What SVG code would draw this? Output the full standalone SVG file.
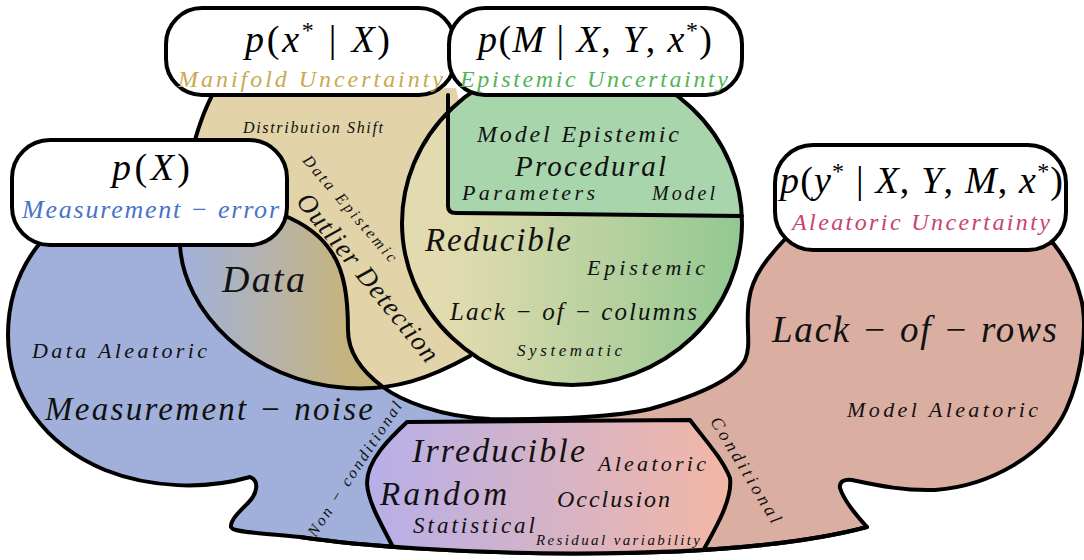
<svg xmlns="http://www.w3.org/2000/svg" width="1084" height="560" viewBox="0 0 1084 560">
<style>
.ol{fill:none;stroke:#000;stroke-width:4;stroke-linejoin:round;stroke-linecap:round}
.box{fill:#fff;stroke:#000;stroke-width:4}
</style>
<defs>
<linearGradient id="gBand" gradientUnits="userSpaceOnUse" x1="0" y1="0" x2="1084" y2="0">
<stop offset="0" stop-color="#a0b0db"/><stop offset="0.5" stop-color="#a0b0db"/>
<stop offset="0.5" stop-color="#dbaea2"/><stop offset="1" stop-color="#dbaea2"/>
</linearGradient>
<linearGradient id="gData" gradientUnits="userSpaceOnUse" x1="185" y1="0" x2="345" y2="0">
<stop offset="0" stop-color="#a2b1da"/><stop offset="1" stop-color="#c6b47f"/>
</linearGradient>
<linearGradient id="gGreen" gradientUnits="userSpaceOnUse" x1="405" y1="0" x2="740" y2="0">
<stop offset="0" stop-color="#e3dbb0"/><stop offset="0.15" stop-color="#e0dbae"/><stop offset="1" stop-color="#93c892"/>
</linearGradient>
<linearGradient id="gPurple" gradientUnits="userSpaceOnUse" x1="370" y1="0" x2="730" y2="0">
<stop offset="0" stop-color="#b7afe9"/><stop offset="1" stop-color="#f3b7a5"/>
</linearGradient>
<path id="bandPath" d="M40,243 C18,270 8,300 8,335 C8,395 45,445 105,470 C150,488 205,490 250,477 C260,481 257,494 248,503 C240,511 230,520 231,527 C233,533 265,533 300,537 C420,555 720,566 867,527 C855,514 843,498 840,488 C839,481 845,479 852,480 C880,486 905,491 935,490 C990,486 1045,455 1066,410 C1084,370 1088,320 1080,295 C1075,275 1065,258 1053,243 L787,237 C770,255 752,275 749,300 C745,325 752,345 745,360 C735,378 700,395 650,409 C620,416 560,420 490,419 C440,417 400,400 383,387 C360,370 348,350 348,330 C348,300 345,270 330,250 C318,232 300,222 283,215 Z"/>
<path id="tanFill" d="M215,90 C198,120 180,180 180,245 C183,310 250,382 347,388 C395,391 430,378 470,356 L470,150 L456,88 Z"/>
<clipPath id="cBand"><use href="#bandPath"/></clipPath>
<clipPath id="cGreen"><ellipse cx="572" cy="223" rx="170" ry="162"/></clipPath>
</defs>

<g id="regions">
<g id="band-aleatoric">
<use href="#bandPath" fill="url(#gBand)"/>
</g>
<g id="manifold">
<use href="#tanFill" fill="#e2d3a8"/>
<use href="#tanFill" fill="url(#gData)" clip-path="url(#cBand)"/>
<path class="ol" d="M215,90 C198,120 180,180 180,245 C183,310 250,382 347,388 C395,391 430,378 470,356"/>
</g>
<use href="#bandPath" class="ol"/>
<g id="epistemic">
<ellipse cx="572" cy="223" rx="170" ry="162" fill="url(#gGreen)"/>
<path d="M448,40 L448,206 Q448,213 456,213 L760,216 L760,40 Z" fill="#a8d5ac" clip-path="url(#cGreen)"/>
<path class="ol" d="M448,95 L448,206 Q448,213 456,213 L742,216"/>
<ellipse cx="572" cy="223" rx="170" ry="162" class="ol"/>
</g>
<g id="irreducible" clip-path="url(#cBand)">
<path d="M407,422 L690,420 C705,440 722,458 730,478 C733,500 715,530 692,570 L405,570 C385,530 368,505 367,483 C367,460 390,438 407,422 Z" fill="url(#gPurple)" stroke="#000" stroke-width="4" stroke-linejoin="round"/>
</g>
<path class="ol" d="M300,537 C420,555 720,566 867,527"/>
</g>

<g id="box-manifold">
<rect class="box" x="166" y="8" width="289" height="87" rx="36"/>
<text font-family="Liberation Serif" font-style="italic" x="245" y="52" font-size="38" textLength="145">p<tspan font-style="normal">(</tspan>x<tspan font-style="normal" font-size="24" dy="-14">*</tspan><tspan font-style="normal" dy="14"> | </tspan>X<tspan font-style="normal">)</tspan></text>
<text font-family="Liberation Serif" font-style="italic" x="178" y="87" font-size="24" textLength="265" fill="#c9a94f">Manifold Uncertainty</text>
</g>
<g id="box-epistemic">
<rect class="box" x="449" y="8" width="293" height="87" rx="36"/>
<text font-family="Liberation Serif" font-style="italic" x="478" y="52" font-size="38" textLength="234">p<tspan font-style="normal">(</tspan>M<tspan font-style="normal"> | </tspan>X<tspan font-style="normal">, </tspan>Y<tspan font-style="normal">, </tspan>x<tspan font-style="normal" font-size="24" dy="-14">*</tspan><tspan font-style="normal" dy="14">)</tspan></text>
<text font-family="Liberation Serif" font-style="italic" x="460" y="87" font-size="24" textLength="268" fill="#55b357">Epistemic Uncertainty</text>
</g>
<g id="box-measurement">
<rect class="box" x="12" y="140" width="275" height="105" rx="38"/>
<text font-family="Liberation Serif" font-style="italic" x="112" y="180" font-size="38" textLength="78">p<tspan font-style="normal">(</tspan>X<tspan font-style="normal">)</tspan></text>
<text font-family="Liberation Serif" font-style="italic" x="22" y="218" font-size="26" textLength="257" fill="#4a72c9">Measurement − error</text>
</g>
<g id="box-aleatoric">
<rect class="box" x="775" y="145" width="291" height="105" rx="38"/>
<text font-family="Liberation Serif" font-style="italic" x="780" y="193" font-size="38" textLength="283">p<tspan font-style="normal">(</tspan>y<tspan font-style="normal" font-size="24" dy="-14">*</tspan><tspan font-style="normal" dy="14"> | </tspan>X<tspan font-style="normal">, </tspan>Y<tspan font-style="normal">, </tspan>M<tspan font-style="normal">, </tspan>x<tspan font-style="normal" font-size="24" dy="-14">*</tspan><tspan font-style="normal" dy="14">)</tspan></text>
<text font-family="Liberation Serif" font-style="italic" x="792" y="230" font-size="24" textLength="258" fill="#c8436c">Aleatoric Uncertainty</text>
</g>

<g id="labels" fill="#111">
<text font-family="Liberation Serif" font-style="italic" x="243" y="133" font-size="16" textLength="140">Distribution Shift</text>
<text font-family="Liberation Serif" font-style="italic" text-anchor="middle" font-size="16" textLength="135" transform="translate(346,212) rotate(49.3)">Data Epistemic</text>
<text font-family="Liberation Serif" font-style="italic" text-anchor="middle" font-size="27" textLength="209" transform="translate(361,283) rotate(51)">Outlier Detection</text>
<text font-family="Liberation Serif" font-style="italic" x="222" y="292" font-size="38" textLength="83">Data</text>
<text font-family="Liberation Serif" font-style="italic" x="32" y="358" font-size="22" textLength="175">Data Aleatoric</text>
<text font-family="Liberation Serif" font-style="italic" x="45" y="420" font-size="33" textLength="328">Measurement − noise</text>
<text font-family="Liberation Serif" font-style="italic" text-anchor="middle" font-size="16" textLength="158" transform="translate(359,472) rotate(-56.6)">Non − conditional</text>
<text font-family="Liberation Serif" font-style="italic" x="477" y="142" font-size="24" textLength="202">Model Epistemic</text>
<text font-family="Liberation Serif" font-style="italic" x="515" y="176" font-size="29" textLength="151">Procedural</text>
<text font-family="Liberation Serif" font-style="italic" x="462" y="200" font-size="22" textLength="133">Parameters</text>
<text font-family="Liberation Serif" font-style="italic" x="652" y="200" font-size="20" textLength="63">Model</text>
<text font-family="Liberation Serif" font-style="italic" x="425" y="251" font-size="33" textLength="146">Reducible</text>
<text font-family="Liberation Serif" font-style="italic" x="587" y="275" font-size="22" textLength="118">Epistemic</text>
<text font-family="Liberation Serif" font-style="italic" x="450" y="320" font-size="25" textLength="247">Lack − of − columns</text>
<text font-family="Liberation Serif" font-style="italic" x="517" y="356" font-size="17" textLength="105">Systematic</text>
<text font-family="Liberation Serif" font-style="italic" x="772" y="342" font-size="37" textLength="285">Lack − of − rows</text>
<text font-family="Liberation Serif" font-style="italic" x="847" y="417" font-size="22" textLength="191">Model Aleatoric</text>
<text font-family="Liberation Serif" font-style="italic" text-anchor="middle" font-size="18" textLength="121" transform="translate(741,473) rotate(59)">Conditional</text>
<text font-family="Liberation Serif" font-style="italic" x="412" y="462" font-size="34" textLength="173">Irreducible</text>
<text font-family="Liberation Serif" font-style="italic" x="598" y="471" font-size="22" textLength="108">Aleatoric</text>
<text font-family="Liberation Serif" font-style="italic" x="380" y="505" font-size="33" textLength="127">Random</text>
<text font-family="Liberation Serif" font-style="italic" x="557" y="507" font-size="24" textLength="113">Occlusion</text>
<text font-family="Liberation Serif" font-style="italic" x="413" y="533" font-size="23" textLength="122">Statistical</text>
<text font-family="Liberation Serif" font-style="italic" x="536" y="545" font-size="15" textLength="164">Residual variability</text>
</g>
</svg>
